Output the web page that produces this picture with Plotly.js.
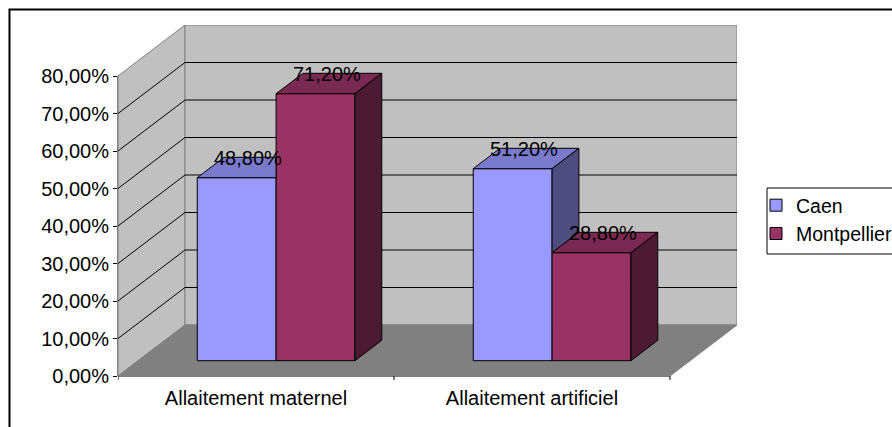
<!DOCTYPE html>
<html>
<head>
<meta charset="utf-8">
<script src="https://cdn.plot.ly/plotly-3.0.1.min.js"></script>
<style>html,body{margin:0;padding:0;background:#fff;}#chart{width:892px;height:427px;}</style>
</head>
<body>
<div id="chart"></div>
<script>
// ---- data ----
const categories = ['Allaitement maternel', 'Allaitement artificiel'];
const seriesNames = ['Caen', 'Montpellier'];
const caen = [48.8, 51.2];
const montpellier = [71.2, 28.8];
const yTickVals = [0, 10, 20, 30, 40, 50, 60, 70, 80];
const yTickText = ['0,00%', '10,00%', '20,00%', '30,00%', '40,00%', '50,00%', '60,00%', '70,00%', '80,00%'];

// ---- styling / geometry of the 3D look ----
const series = [caen, montpellier];
const frontColors = ['#9999FF', '#993366'];
const topColors = ['#7A7ACC', '#7A2952'];
const sideColors = ['#4D4D80', '#4D1A33'];
const YMAX = 80;          // top of the walls (axis max)
const DX = 0.2428;        // depth offset in category units
const DY = 13.6;          // depth offset in y units
const D0 = 0.3, D1 = 0.7; // bar depth extent
const BW = 1 / 3.5;       // bar width (gap width 150%)
const FONT = 'Liberation Sans, Arial, sans-serif';
const FS = 20;

function P(x, y, d) { return [x + d * DX, y + d * DY]; }
function pathOf(pts) { return 'M' + pts.map(p => p[0] + ',' + p[1]).join('L') + 'Z'; }
function fmt(v) { return v.toFixed(2).replace('.', ',') + '%'; }

const shapes = [];
// walls and floor
shapes.push({type: 'path', xref: 'x', yref: 'y', layer: 'below',
  path: pathOf([[0, 0], P(0, 0, 1), P(0, YMAX, 1), [0, YMAX]]),
  fillcolor: '#C0C0C0', line: {color: '#808080', width: 1}});
shapes.push({type: 'path', xref: 'x', yref: 'y', layer: 'below',
  path: pathOf([P(0, 0, 1), P(categories.length, 0, 1), P(categories.length, YMAX, 1), P(0, YMAX, 1)]),
  fillcolor: '#C0C0C0', line: {color: '#808080', width: 1}});
// gridlines on back and side walls
for (let i = 1; i < yTickVals.length - 1; i++) {
  const v = yTickVals[i];
  shapes.push({type: 'path', xref: 'x', yref: 'y', layer: 'below',
    path: 'M0,' + v + 'L' + P(0, v, 1).join(',') + 'L' + P(categories.length, v, 1).join(','),
    line: {color: '#000', width: 1}});
}
shapes.push({type: 'path', xref: 'x', yref: 'y', layer: 'below',
  path: pathOf([[0, 0], P(0, 0, 1), P(categories.length, 0, 1), [categories.length, 0]]),
  fillcolor: '#808080', line: {color: '#808080', width: 1}});
// front axis lines
shapes.push({type: 'line', xref: 'paper', yref: 'y', layer: 'below', x0: 0, x1: 0, y0: 0, y1: YMAX,
  line: {color: '#000', width: 1}});
shapes.push({type: 'line', xref: 'x', yref: 'paper', layer: 'below', x0: 0, x1: categories.length, y0: 0, y1: 0,
  line: {color: '#000', width: 1}});
for (let i = 0; i <= categories.length; i++) {
  shapes.push({type: 'line', xref: 'x', yref: 'paper', layer: 'below', x0: i, x1: i, y0: 0, y1: -0.0114,
    line: {color: '#000', width: 1}});
}
// border of chart area
shapes.push({type: 'rect', xref: 'paper', yref: 'paper', layer: 'above',
  x0: -0.1753, x1: 1.3, y0: 1.0442, y1: -0.3, line: {color: '#000', width: 2}});
// legend box
shapes.push({type: 'rect', xref: 'paper', yref: 'paper', layer: 'below',
  x0: 1.0485, x1: 1.3, y0: 0.5356, y1: 0.3476, fillcolor: '#fff', line: {color: '#000', width: 1}});

// top and side faces of bars
categories.forEach((cat, i) => {
  const c = i + 0.5;
  series.forEach((vals, s) => {
    const v = vals[i];
    const xl = c + (s === 0 ? -BW : 0);
    const xr = xl + BW;
    const next = s + 1 < series.length ? series[s + 1][i] : null;
    let top;
    if (next !== null && next > v) {
      top = [P(xl, v, D0), P(xr, v, D0), [xr + D0 * DX, v + D1 * DY], P(xl, v, D1)];
    } else {
      top = [P(xl, v, D0), P(xr, v, D0), P(xr, v, D1), P(xl, v, D1)];
    }
    shapes.push({type: 'path', xref: 'x', yref: 'y', layer: 'above', path: pathOf(top),
      fillcolor: topColors[s], line: {color: '#000', width: 1}});
    const lo = next !== null ? Math.min(v, next) : 0;
    if (lo < v) {
      shapes.push({type: 'path', xref: 'x', yref: 'y', layer: 'above',
        path: pathOf([P(xr, lo, D0), P(xr, v, D0), P(xr, v, D1), P(xr, lo, D1)]),
        fillcolor: sideColors[s], line: {color: '#000', width: 1}});
    }
  });
});

// bar front faces
const traces = series.map((vals, s) => ({
  type: 'bar', name: seriesNames[s],
  x: categories.map((_, i) => i + 0.5),
  y: vals,
  base: D0 * DY,
  offset: (s === 0 ? -BW : 0) + D0 * DX,
  width: BW,
  marker: {color: frontColors[s], line: {color: '#000', width: 1}},
  hoverinfo: 'skip', cliponaxis: false
}));

// value labels
const annotations = [];
categories.forEach((cat, i) => {
  series.forEach((vals, s) => {
    const v = vals[i];
    const cx = i + 0.5 + (s === 0 ? -BW / 2 : BW / 2);
    annotations.push({xref: 'x', yref: 'y', x: cx + 0.47 * DX, y: v + 0.69 * DY,
      text: fmt(v), showarrow: false, xanchor: 'center', yanchor: 'middle',
      font: {family: FONT, size: FS, color: '#000'}});
  });
});

const layout = {
  width: 892, height: 427,
  margin: {l: 118, r: 155, t: 25, b: 51, autoexpand: false},
  paper_bgcolor: '#fff', plot_bgcolor: 'rgba(0,0,0,0)',
  barmode: 'overlay',
  font: {family: FONT, size: FS, color: '#000'},
  xaxis: {range: [0, categories.length + DX], tickvals: categories.map((_, i) => i + 0.5),
    ticktext: categories, ticks: '', showgrid: false, zeroline: false, showline: false,
    ticklabelstandoff: 8,
    tickfont: {family: FONT, size: FS, color: '#000'}, fixedrange: true},
  yaxis: {range: [0, YMAX + DY], tickvals: yTickVals, ticktext: yTickText, ticks: 'outside',
    ticklen: 4, tickcolor: '#000', showgrid: false, zeroline: false, showline: false,
    tickfont: {family: FONT, size: FS, color: '#000'}, fixedrange: true},
  showlegend: true,
  legend: {x: 1.0307, y: 0.5413, xanchor: 'left', yanchor: 'top', bgcolor: 'rgba(0,0,0,0)',
    borderwidth: 0, font: {family: FONT, size: 19.5, color: '#000'}, itemwidth: 30},
  shapes: shapes,
  annotations: annotations
};

Plotly.newPlot('chart', traces, layout, {staticPlot: true});
</script>
</body>
</html>
